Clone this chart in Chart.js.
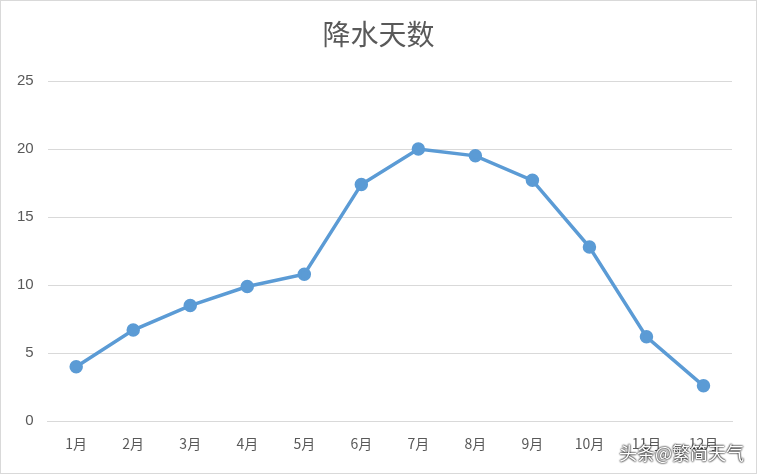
<!DOCTYPE html>
<html><head><meta charset="utf-8">
<script src="https://cdn.jsdelivr.net/npm/chart.js@4"></script>
<style>
html,body{margin:0;padding:0;background:#fff;}
#wrap{position:relative;width:755px;height:472px;border:1px solid #d9d9d9;}
#title{position:absolute;left:0;right:0;top:14px;text-align:center;font:28px "Noto Sans CJK SC";color:#595959;line-height:36px;}
#wm{position:absolute;right:12px;bottom:8px;font:18px "Noto Sans CJK SC";color:#fff;text-shadow:0 0 2px #000,0 0 2px #000;}
</style></head>
<body><div id="wrap"><canvas id="c" width="755" height="472"></canvas><div id="title">降水天数</div><div id="wm">头条@繁简天气</div></div>
<script>
const categories=["1月","2月","3月","4月","5月","6月","7月","8月","9月","10月","11月","12月"];
const rainDays=[4.0,6.7,8.5,9.9,10.8,17.4,20.0,19.5,17.7,12.8,6.2,2.6];
const yTicks=[0,5,10,15,20,25];
new Chart(document.getElementById('c'),{
type:'line',
data:{labels:categories,datasets:[{data:rainDays,borderColor:'#5b9bd5',backgroundColor:'#5b9bd5',borderWidth:3.5,pointRadius:5,pointHoverRadius:5,tension:0}]},
options:{responsive:false,animation:false,
layout:{padding:{left:2,right:24,top:80,bottom:15}},
plugins:{legend:{display:false},tooltip:{enabled:false},title:{display:false}},
scales:{
x:{offset:true,grid:{display:false},border:{color:'#d9d9d9'},ticks:{color:'#595959',font:{family:'Noto Sans CJK SC',size:14},padding:6}},
y:{min:0,max:25,afterBuildTicks:a=>{a.ticks=yTicks.map(v=>({value:v}));},grid:{color:'#d9d9d9',drawTicks:false},border:{display:false},ticks:{color:'#595959',font:{family:'Liberation Sans',size:15},padding:14}}
}}});
</script></body></html>
